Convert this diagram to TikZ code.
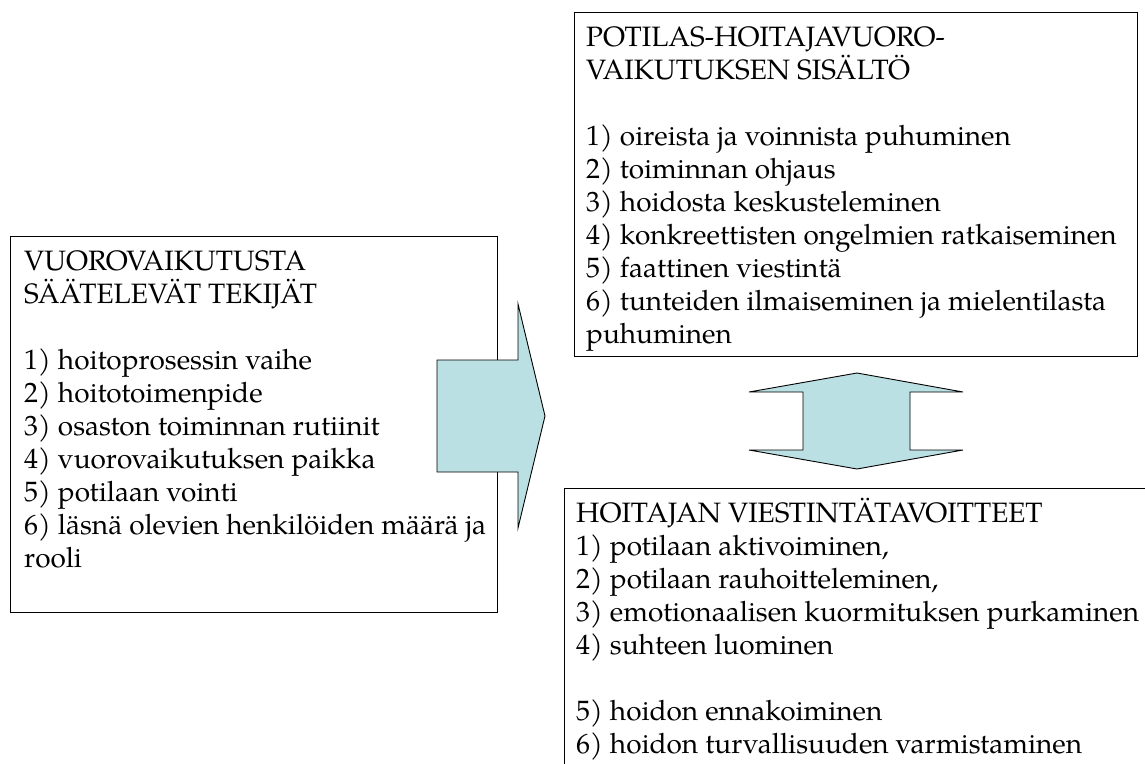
\documentclass[tikz,border=0pt]{standalone}
\usepackage{fontspec}
\setmainfont{TeX Gyre Pagella}
\definecolor{arrowcyan}{RGB}{187,224,227}
\newcommand{\firstline}{\rule{0pt}{26pt}}
\tikzset{
  boxframe/.style={draw=black, line width=0.9pt, inner sep=0pt, anchor=north west},
  txt/.style={anchor=north west, inner sep=0pt, align=left,
    font=\fontsize{28}{33}\selectfont},
  bigarrow/.style={fill=arrowcyan, draw=black, line width=0.9pt, line join=miter}
}
\begin{document}
\lineskiplimit=-50pt\relax
\begin{tikzpicture}[x=1pt,y=-1pt]
\useasboundingbox[fill=white] (0,0) rectangle (1145,763);
% left box
\node[boxframe, minimum width=487pt, minimum height=376pt] (lbox) at (10,236) {};
\node[txt] (ltext) at (24,244) {\firstline VUOROVAIKUTUSTA\\
SÄÄTELEVÄT TEKIJÄT\\[33pt]
1) hoitoprosessin vaihe\\
2) hoitotoimenpide\\
3) osaston toiminnan rutiinit\\
4) vuorovaikutuksen paikka\\
5) potilaan vointi\\
6) läsnä olevien henkilöiden määrä ja\\
rooli};
% top right box
\node[boxframe, minimum width=563pt, minimum height=344pt] (tbox) at (574,12) {};
\node[txt] (ttext) at (586,20) {\firstline POTILAS-HOITAJAVUORO-\\
VAIKUTUKSEN SISÄLTÖ\\[33pt]
1) oireista ja voinnista puhuminen\\
2) toiminnan ohjaus\\
3) hoidosta keskusteleminen\\
4) konkreettisten ongelmien ratkaiseminen\\
5) faattinen viestintä\\
6) tunteiden ilmaiseminen ja mielentilasta\\
puhuminen};
% bottom right box (runs off the page)
\coordinate (bTR) at (1150,488);
\coordinate (bTL) at (564,488);
\coordinate (bBL) at (564,770);
\draw[line width=0.9pt] (bTR) -- (bTL) -- (bBL);
\node[txt] (btext) at (576,496) {\firstline HOITAJAN VIESTINTÄTAVOITTEET\\
1) potilaan aktivoiminen,\\
2) potilaan rauhoitteleminen,\\
3) emotionaalisen kuormituksen purkaminen\\
4) suhteen luominen\\[33pt]
5) hoidon ennakoiminen\\
6) hoidon turvallisuuden varmistaminen};
% right-pointing block arrow
\draw[bigarrow] (437,360) -- (518,360) -- (518,304) -- (545,416) -- (518,528) -- (518,472) -- (437,472) -- cycle;
% up-down double block arrow
\draw[bigarrow] (857,373) -- (963,392) -- (910,392) -- (910,450) -- (963,450) -- (857,469) -- (749,450) -- (803,450) -- (803,392) -- (749,392) -- cycle;
\end{tikzpicture}
\end{document}
